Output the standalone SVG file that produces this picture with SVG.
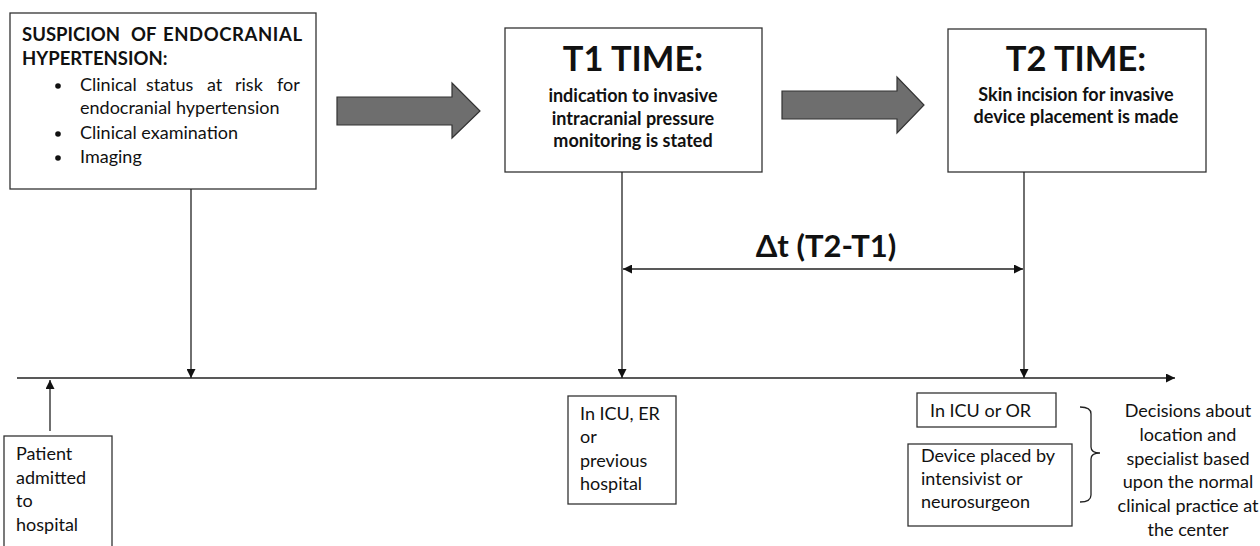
<svg xmlns="http://www.w3.org/2000/svg" width="1260" height="546" viewBox="0 0 1260 546">
<defs>
<style>
.box{fill:#fff;stroke:#333;stroke-width:1.3}
.t{font-family:Lato,"Liberation Sans",sans-serif;fill:#111;font-size:18px}
.h{font-size:18.5px;font-weight:bold}
.sub{font-size:18px;font-weight:bold;text-anchor:middle}
.title{font-size:34.5px;font-weight:bold;text-anchor:middle}
.c{text-anchor:middle}
.ln{stroke:#222;stroke-width:1.3;fill:none}
.big{fill:#6e6e6e;stroke:#333;stroke-width:1.2}
</style>
<marker id="ah" viewBox="0 0 10 10" refX="10" refY="5" markerWidth="9" markerHeight="9" markerUnits="userSpaceOnUse" orient="auto-start-reverse">
<path d="M0,0 L10,5 L0,10 z" fill="#111"/>
</marker>
</defs>
<rect width="1260" height="546" fill="#fff"/>

<g id="suspicion">
<rect class="box" x="10" y="13" width="306" height="176"/>
<text class="t h" y="41"><tspan x="22">SUSPICION</tspan> <tspan x="131">OF</tspan> <tspan x="163" textLength="139" lengthAdjust="spacing">ENDOCRANIAL</tspan></text>
<text class="t h" x="22" y="65">HYPERTENSION:</text>
<circle cx="58" cy="86" r="2.8" fill="#111"/>
<text class="t" y="91"><tspan x="80">Clinical</tspan> <tspan x="146">status</tspan> <tspan x="207">at</tspan> <tspan x="235">risk</tspan> <tspan x="277">for</tspan></text>
<text class="t" x="80" y="114">endocranial hypertension</text>
<circle cx="58" cy="134" r="2.8" fill="#111"/>
<text class="t" x="80" y="139">Clinical examination</text>
<circle cx="58" cy="158" r="2.8" fill="#111"/>
<text class="t" x="80" y="163">Imaging</text>
</g>

<g id="arrow1">
<path class="big" d="M337,97 L452,97 L452,83 L480,111 L452,138 L452,125 L337,125 z"/>
</g>

<g id="t1">
<rect class="box" x="505" y="28" width="257" height="144"/>
<text class="t title" x="633" y="71">T1 TIME:</text>
<text class="t sub" x="633" y="102">indication to invasive</text>
<text class="t sub" x="633" y="125">intracranial pressure</text>
<text class="t sub" x="633" y="147">monitoring is stated</text>
</g>

<g id="arrow2">
<path class="big" d="M782,91 L897,91 L897,77 L924,105 L897,133 L897,119 L782,119 z"/>
</g>

<g id="t2">
<rect class="box" x="948" y="29" width="258" height="143"/>
<text class="t title" x="1076" y="71">T2 TIME:</text>
<text class="t sub" x="1076" y="101">Skin incision for invasive</text>
<text class="t sub" x="1076" y="123">device placement is made</text>
</g>

<g id="delta">
<text class="t title" x="826" y="257" style="font-size:31px">Δt (T2-T1)</text>
</g>

<g id="patient">
<rect class="box" x="4" y="436" width="108" height="120"/>
<text class="t" x="16" y="460">Patient</text>
<text class="t" x="16" y="484">admitted</text>
<text class="t" x="16" y="507">to</text>
<text class="t" x="16" y="531">hospital</text>
</g>

<g id="t1loc">
<rect class="box" x="568" y="396" width="108" height="108"/>
<text class="t" x="580" y="420">In ICU, ER</text>
<text class="t" x="580" y="443">or</text>
<text class="t" x="580" y="467">previous</text>
<text class="t" x="580" y="490">hospital</text>
</g>

<g id="t2loc">
<rect class="box" x="917" y="393" width="139" height="34"/>
<text class="t" x="930" y="417">In ICU or OR</text>
</g>

<g id="t2spec">
<rect class="box" x="908" y="444" width="164" height="82"/>
<text class="t" x="921" y="462">Device placed by</text>
<text class="t" x="921" y="485">intensivist or</text>
<text class="t" x="921" y="508">neurosurgeon</text>
</g>

<g id="decisions">
<text class="t c" x="1188" y="417">Decisions about</text>
<text class="t c" x="1188" y="441">location and</text>
<text class="t c" x="1188" y="465">specialist based</text>
<text class="t c" x="1188" y="488">upon the normal</text>
<text class="t c" x="1188" y="512">clinical practice at</text>
<text class="t c" x="1188" y="536">the center</text>
</g>

<g id="connectors">
<line class="ln" x1="17" y1="378" x2="1175" y2="378" marker-end="url(#ah)"/>
<line class="ln" x1="191" y1="189" x2="191" y2="378" marker-end="url(#ah)"/>
<line class="ln" x1="622" y1="172" x2="622" y2="378" marker-end="url(#ah)"/>
<line class="ln" x1="1024" y1="172" x2="1024" y2="378" marker-end="url(#ah)"/>
<line class="ln" x1="50" y1="431" x2="50" y2="380" marker-end="url(#ah)"/>
<line class="ln" x1="623" y1="269" x2="1023" y2="269" marker-start="url(#ah)" marker-end="url(#ah)"/>
<path class="ln" d="M1080,407 Q1091,407 1091,414 L1091,447 Q1091,453 1100,453 Q1091,453 1091,459 L1091,495 Q1091,502 1080,502"/>
</g>
</svg>
